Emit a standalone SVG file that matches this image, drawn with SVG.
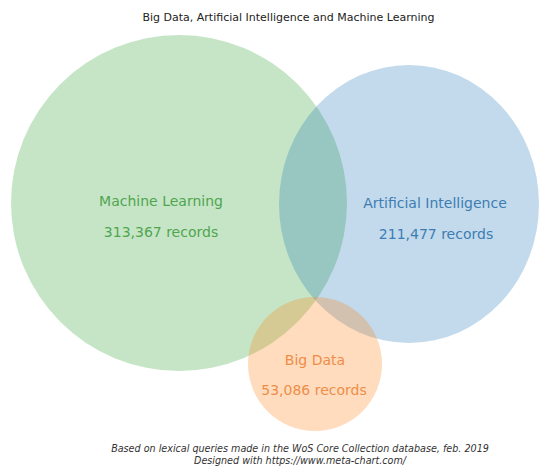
<svg xmlns="http://www.w3.org/2000/svg" width="543" height="468" viewBox="0 0 543 468">
<style>
text{font-family:"DejaVu Sans","Liberation Sans",sans-serif;text-anchor:middle}
.title{font-size:11px;fill:#222}
.lbl{font-size:14px}
.ml{fill:#4fa54f}
.ai{fill:#3d7db3}
.bd{fill:#ef8d48}
.note{font-size:9.6px;font-style:italic;fill:#333}
</style>
<rect width="543" height="468" fill="#fff"/>
<text class="title" x="288.5" y="21">Big Data, Artificial Intelligence and Machine Learning</text>
<g id="ml-circle"><circle cx="179" cy="203" r="168" fill="#2ca02c" fill-opacity="0.27"/></g>
<g id="ai-circle"><ellipse cx="409" cy="204" rx="130" ry="139" fill="#1f77b4" fill-opacity="0.27"/></g>
<g id="bd-circle"><circle cx="315" cy="364" r="67" fill="#ff7f0e" fill-opacity="0.27"/></g>
<g id="connectors"></g>
<g id="ml-label"><text class="lbl ml" x="161" y="206">Machine Learning</text><text class="lbl ml" x="161" y="237">313,367 records</text></g>
<g id="ai-label"><text class="lbl ai" x="435" y="208">Artificial Intelligence</text><text class="lbl ai" x="436" y="239">211,477 records</text></g>
<g id="bd-label"><text class="lbl bd" x="315" y="365">Big Data</text><text class="lbl bd" x="314" y="395">53,086 records</text></g>
<text class="note" x="300" y="452">Based on lexical queries made in the WoS Core Collection database, feb. 2019</text>
<text class="note" x="300" y="464">Designed with https://www.meta-chart.com/</text>
</svg>
